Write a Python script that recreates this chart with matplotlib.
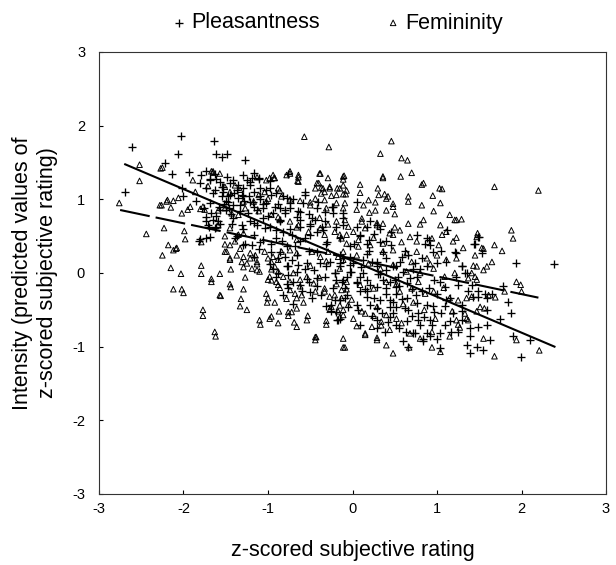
import matplotlib
matplotlib.use("Agg")
import matplotlib.pyplot as plt
import numpy as np

plt.rcParams['font.family'] = ['Liberation Sans', 'DejaVu Sans']
plt.rcParams['axes.unicode_minus'] = False

# Pleasantness ratings (x = z-scored rating, y = predicted intensity)
pleas_pts = [
    (-2.69, 1.10), (-2.61, 1.71), (-2.22, 1.49), (-2.14, 1.35), (-2.06, 1.62), (-2.03, 1.86),
    (-2.01, 1.04), (-2.02, 1.15), (-1.93, 1.37), (-1.80, 1.22), (-1.73, 1.39), (-1.69, 1.26),
    (-1.64, 1.79), (-1.61, 1.61), (-1.55, 1.57), (-1.49, 1.62), (-1.61, 1.28), (-1.63, 1.13),
    (-1.55, 1.17), (-1.53, 1.10), (-1.47, 1.04), (-1.27, 1.53), (-1.82, 0.43), (-1.69, 0.49),
    (-1.80, 0.46), (-1.73, 0.76), (-1.65, 0.72), (-1.59, 0.70), (-1.71, 0.65), (-1.63, 0.61),
    (-1.73, 0.47), (-1.55, 1.05), (-1.50, 0.98), (-1.52, 0.93), (-1.58, 0.90), (-1.50, 0.85),
    (-1.46, 0.88), (-1.85, 0.98), (-1.76, 0.88), (-1.68, 0.82), (-1.62, 0.77), (-1.57, 0.66),
    (-1.70, 0.62),
    (-1.17, 1.36), (-1.19, 1.29), (-1.11, 1.27), (-1.25, 1.26), (-1.45, 1.22), (-1.35, 1.20),
    (-1.29, 1.15), (-1.21, 1.19), (-1.09, 1.15), (-0.98, 1.15), (-0.96, 1.06), (-0.82, 1.04),
    (-0.56, 1.06), (-0.41, 0.97), (-0.24, 0.90), (-0.33, 0.83), (-0.11, 0.81), (-1.40, 1.08),
    (-1.31, 1.06), (-1.23, 1.04), (-1.10, 1.00), (-1.47, 0.97), (-1.33, 0.92), (-1.17, 0.90),
    (-1.06, 0.88), (-0.92, 0.90), (-0.80, 0.85), (-0.80, 0.81), (-0.66, 0.76), (-0.52, 0.80),
    (-0.44, 0.72), (-0.33, 0.70), (-0.19, 0.63), (-0.11, 0.65), (-1.43, 0.67), (-1.31, 0.65),
    (-1.21, 0.70), (-1.13, 0.65), (-1.04, 0.61), (-0.90, 0.58), (-0.82, 0.56), (-0.72, 0.52),
    (-0.56, 0.47), (-1.39, 0.47), (-1.27, 0.40), (-1.19, 0.38), (-1.11, 0.33), (-1.06, 0.45),
    (-0.96, 0.40), (-0.96, 0.29), (-0.88, 0.20), (-0.80, 0.22), (-0.72, 0.18), (-0.64, 0.11),
    (-0.56, 0.06), (-0.46, 0.04), (-0.38, 0.13), (-0.27, 0.15), (-0.15, 0.09), (-0.94, 0.06),
    (-0.88, 0.00), (-0.76, -0.03), (-0.70, -0.12), (-0.62, -0.16), (-0.52, -0.12), (-0.42, -0.07),
    (-0.33, -0.05), (-0.21, 0.00), (-0.13, -0.12), (-0.76, -0.21), (-0.60, -0.25), (-0.48, -0.34),
    (-0.37, -0.30), (-0.25, -0.43), (-0.15, -0.37), (-0.17, -0.64), (-0.25, -0.52), (-0.76, 0.09),
    (-1.36, 1.02), (-1.28, 0.98), (-1.18, 0.96), (-1.02, 0.95), (-0.88, 0.93), (-0.74, 0.88),
    (-0.64, 0.84), (-0.48, 0.74), (-1.00, 0.78), (-0.86, 0.72), (-0.62, 0.62), (-0.42, 0.55),
    (-0.30, 0.42), (-0.52, 0.30), (-0.68, 0.36), (-0.84, 0.44), (-1.24, 0.82), (-1.44, 0.80),
    (-0.58, 0.95), (-0.70, 1.00), (-0.50, 0.64), (-0.36, 0.62),
    (-1.79, 1.33), (-1.69, 1.28), (-1.63, 1.35), (-1.57, 1.24), (-1.49, 1.30), (-1.41, 1.26),
    (-1.29, 1.33), (-1.21, 1.23), (-1.11, 1.29), (-0.98, 1.25), (-0.76, 1.35),
    (-1.73, 1.15), (-1.65, 1.08), (-1.53, 1.17), (-1.45, 1.06), (-1.37, 1.12), (-1.29, 1.05),
    (-1.17, 1.10), (-1.09, 1.05), (-1.02, 1.13), (-0.90, 1.08), (-0.78, 1.02), (-0.56, 1.10),
    (-1.69, 0.95), (-1.57, 0.85), (-1.41, 0.92), (-1.33, 0.84), (-1.21, 0.97), (-1.13, 0.86),
    (-1.06, 0.93), (-0.94, 0.82), (-0.86, 0.88), (-0.74, 0.95), (-0.62, 0.83), (-0.42, 0.88),
    (-0.23, 0.82),
    (-1.73, 0.70), (-1.61, 0.62), (-1.41, 0.74), (-1.29, 0.60), (-1.17, 0.68), (-1.06, 0.75),
    (-0.98, 0.63), (-0.86, 0.70), (-0.74, 0.60), (-0.62, 0.72), (-0.50, 0.66), (-0.35, 0.59),
    (-0.11, 0.74), (0.05, 0.62), (0.21, 0.70), (0.33, 0.60),
    (-1.37, 0.50), (-1.29, 0.38), (-1.17, 0.52), (-1.09, 0.42), (-0.90, 0.48), (-0.78, 0.37),
    (-0.62, 0.44), (-0.50, 0.52), (-0.31, 0.40), (-0.15, 0.47), (-0.03, 0.37), (0.09, 0.50),
    (0.17, 0.40), (0.25, 0.53), (0.40, 0.44),
    (-1.17, 0.22), (-0.98, 0.12), (-0.86, 0.28), (-0.78, 0.10), (-0.66, 0.24), (-0.54, 0.14),
    (-0.42, 0.28), (-0.31, 0.10), (-0.15, 0.24), (0.01, 0.13), (0.17, 0.26), (0.29, 0.15),
    (0.40, 0.20), (0.52, 0.10),
    (-0.90, -0.05), (-0.78, -0.15), (-0.66, 0.02), (-0.54, -0.08), (-0.42, -0.18), (-0.19, -0.10),
    (-0.03, 0.01), (0.09, -0.06), (0.21, -0.16), (0.33, -0.02), (0.44, -0.12), (0.52, -0.19),
    (-0.82, -0.30), (-0.70, -0.42), (-0.50, -0.26), (-0.31, -0.45), (-0.07, -0.30), (0.05, -0.44),
    (0.17, -0.25), (0.29, -0.48), (0.40, -0.28), (0.48, -0.40),
    (-0.15, -0.62), (0.09, -0.70), (0.29, -0.75), (0.44, -0.60),
    (0.05, 0.97), (0.29, 0.65), (0.17, 0.63), (0.09, 0.52), (0.19, 0.45), (0.33, 0.42),
    (0.36, 0.29), (0.46, 0.38), (0.58, 0.22), (0.66, 0.24), (0.88, 0.47), (0.86, 0.40),
    (0.92, 0.38), (0.76, 0.52), (0.74, 0.13), (0.88, 0.09), (1.00, 0.13), (0.76, -0.05),
    (0.64, -0.14), (0.54, -0.05), (0.40, 0.04), (0.29, 0.09), (0.13, 0.18), (-0.03, 0.22),
    (-0.15, 0.13), (-0.21, 0.00), (-0.11, -0.09), (0.05, -0.14), (0.17, -0.09), (0.29, -0.19),
    (0.40, -0.21), (0.52, -0.28), (0.64, -0.34), (0.76, -0.41), (0.88, -0.43), (1.00, -0.28),
    (1.09, -0.19), (1.11, -0.37), (0.52, -0.46), (0.44, -0.37), (0.33, -0.37), (0.21, -0.43),
    (0.66, -0.50), (0.78, -0.55), (-0.23, -0.21), (-0.21, -0.37), (-0.19, -0.53), (-0.23, 0.89),
    (0.78, -0.64), (0.92, -0.64), (0.97, -0.53), (0.88, -0.82), (0.72, -0.82), (0.63, -0.80),
    (0.52, -0.71), (0.42, -0.66), (0.29, -0.64), (0.35, -0.55), (0.23, -0.59), (0.17, -0.32),
    (0.07, -0.50), (-0.05, -0.46), (-0.09, -0.34), (-0.18, -0.64), (1.09, -0.71), (1.17, -0.80),
    (1.04, -0.82), (0.92, -0.86), (0.84, -0.89), (0.66, -1.01), (1.04, -1.02), (1.12, 0.58),
    (1.22, 0.27), (1.29, 0.09), (1.35, 0.00), (1.23, -0.05), (1.49, -0.25), (1.57, -0.28),
    (1.42, -0.32), (1.29, -0.43), (1.19, -0.55), (1.29, -0.64), (-0.11, 0.20), (-0.03, 0.11),
    (-0.07, -0.05), (0.05, -0.12), (0.13, 0.00), (0.23, 0.15), (0.09, -0.25), (0.25, -0.34),
    (-0.09, -0.21), (0.90, 0.45), (1.11, 0.15), (1.21, 0.29), (0.56, 0.15), (0.68, -0.07),
    (0.80, 0.06), (1.04, -0.12), (1.15, -0.34), (0.44, -0.46), (0.80, -0.71), (0.94, -0.71),
    (1.00, -0.89), (0.84, -0.93), (0.74, -0.82), (0.48, 0.10), (0.60, 0.02), (0.70, -0.22),
    (0.36, -0.10), (0.20, 0.30), (0.02, 0.40), (0.10, 0.08), (0.55, -0.18), (0.82, -0.25),
    (0.96, -0.10), (0.62, 0.30), (0.45, 0.55), (0.30, -0.02), (0.15, -0.22), (-0.02, 0.02),
    (0.50, -0.10), (0.58, -0.35), (0.62, -0.48), (0.70, -0.58), (0.75, -0.30), (0.85, -0.60),
    (0.90, -0.20), (0.95, -0.45), (1.05, -0.55), (1.10, -0.45), (1.15, -0.65), (0.55, -0.75),
    (0.65, -0.65), (0.72, 0.05), (0.82, 0.20), (0.95, 0.28), (1.05, 0.30), (0.48, -0.55),
    (0.38, -0.80), (0.60, -0.92),
    (1.45, 0.40), (1.49, 0.49), (1.53, 0.27), (1.94, 0.13), (2.39, 0.12), (1.29, 0.09),
    (1.33, 0.00), (1.25, -0.16), (1.41, -0.16), (1.49, -0.32), (1.37, -0.25), (1.59, -0.34),
    (1.65, -0.28), (1.78, -0.17), (1.84, -0.39), (1.88, -0.55), (1.75, -0.62), (1.59, -0.71),
    (1.49, -0.73), (1.39, -0.75), (1.25, -0.80), (1.39, -0.86), (1.63, -0.91), (1.90, -0.86),
    (2.10, -0.91), (1.35, -0.98), (1.47, -1.01), (1.55, -1.05), (1.39, -1.09), (1.99, -1.14),
    (1.29, -0.52), (1.59, -0.50), (1.50, 0.49), (1.44, 0.39),
]

# Femininity ratings
femin_pts = [
    (-2.76, 0.95), (-2.52, 1.25), (-2.52, 1.47), (-2.27, 1.42), (-2.44, 0.53), (-2.23, 0.61),
    (-2.28, 0.92), (-2.15, 0.89), (-2.20, 0.97), (-2.12, 0.98), (-2.06, 1.02), (-2.18, 0.38),
    (-2.12, 0.31), (-2.08, 0.34), (-2.25, 0.24), (-2.15, 0.07), (-2.03, -0.01), (-2.12, -0.22),
    (-2.02, -0.22), (-2.00, -0.27), (-1.79, -0.01), (-1.67, -0.12), (-1.57, -0.01), (-1.56, -0.31),
    (-1.77, -0.50), (-1.62, -0.86), (-1.98, 0.46), (-1.99, 0.57), (-1.92, 0.90), (-2.02, 0.81),
    (-1.95, 0.86), (-1.86, 1.10), (-1.89, 1.26), (-1.80, 0.87), (-1.75, 0.86), (-1.71, 1.18),
    (-1.65, 1.38), (-1.51, 0.29), (-1.51, 0.39), (-2.26, 0.92), (-2.19, 0.99), (-2.25, 1.43),
    (-2.09, 0.33), (-1.25, -0.50), (-1.10, -0.64), (-0.96, -0.59), (-0.87, -0.52), (-0.76, -0.53),
    (-0.72, -0.53), (-0.69, -0.67), (-0.53, -0.58), (-0.43, -0.87), (-0.31, -0.65), (-0.27, -0.50),
    (-0.11, -0.89), (-0.57, 1.85), (-0.28, 1.71), (-0.74, 1.35), (-0.64, 1.33), (-0.65, 1.25),
    (-0.98, 1.29), (-0.93, 1.29), (-0.38, 1.35), (-0.29, 1.29), (-0.35, 1.15), (-0.27, 1.15),
    (-0.18, 1.15), (-0.11, 1.07), (-0.42, 1.22), (-1.57, 1.35), (-1.67, 1.38), (-1.02, 0.97),
    (-0.74, 1.38), (-0.78, 1.33), (-0.64, 1.24), (-0.92, 1.29), (-1.02, 1.26), (-0.40, 1.22),
    (-0.37, 1.16), (-0.33, 1.10), (-0.15, 1.15), (-0.11, 1.31), (-0.11, 1.19), (-1.51, 1.17),
    (-1.45, 1.10), (-1.39, 1.19), (-1.33, 1.13), (-1.29, 0.97), (-1.17, 0.97), (-1.11, 1.06),
    (-1.04, 1.10), (-1.00, 1.01), (-0.88, 1.15), (-0.84, 1.04), (-0.74, 1.00), (-0.62, 0.98),
    (-0.50, 0.96), (-0.44, 1.01), (-0.33, 0.99), (-0.25, 1.05), (-0.19, 0.95), (-1.51, 0.88),
    (-1.43, 0.81), (-1.35, 0.79), (-1.27, 0.88), (-1.11, 0.84), (-0.96, 0.79), (-0.88, 0.76),
    (-0.74, 0.70), (-0.64, 0.65), (-0.52, 0.56), (-0.38, 0.61), (-0.33, 0.52), (-0.21, 0.56),
    (-0.13, 0.47), (-1.45, 0.61), (-1.35, 0.52), (-1.29, 0.54), (-1.39, 0.43), (-1.33, 0.33),
    (-1.49, 0.29), (-1.45, 0.20), (-1.37, 0.24), (-1.29, 0.22), (-1.21, 0.27), (-1.15, 0.24),
    (-1.13, 0.15), (-1.04, 0.29), (-1.00, 0.20), (-0.94, 0.22), (-0.84, 0.29), (-0.74, 0.31),
    (-0.66, 0.27), (-0.48, 0.29), (-0.38, 0.22), (-0.29, 0.29), (-0.17, 0.22), (-0.11, 0.29),
    (-0.96, 0.15), (-0.92, 0.09), (-0.88, 0.02), (-0.82, -0.05), (-0.70, 0.00), (-0.62, -0.09),
    (-0.54, -0.05), (-0.46, -0.14), (-0.33, -0.21), (-0.21, -0.30), (-0.13, -0.23), (-0.88, -0.16),
    (-0.90, -0.12), (-0.74, -0.23), (-0.68, -0.28), (-0.66, -0.34), (-0.60, -0.30), (-0.44, -0.25),
    (-0.33, -0.25), (-0.25, -0.46), (-0.17, -0.52), (-0.11, -0.57), (-1.00, -0.09), (-0.96, -0.10),
    (-1.19, 0.06), (-1.13, 0.04), (-1.10, 0.02), (-1.31, 0.15), (-1.25, 0.13), (-1.44, 0.05),
    (-1.27, -0.06), (-1.32, -0.35), (-1.44, -0.19), (-1.00, -0.34), (-1.01, -0.40), (-0.44, -0.87),
    (-0.11, -1.01),
    (-1.65, 1.36), (-1.13, 1.30), (-0.94, 1.33), (-0.64, 1.30), (-0.39, 1.35), (-0.11, 1.27),
    (0.36, 1.31), (-0.86, 1.12), (-0.44, 1.15), (-0.37, 1.08), (-0.27, 1.17), (-0.19, 1.06),
    (-0.07, 1.12), (0.09, 1.09), (0.30, 1.15), (0.38, 1.07), (-1.77, 0.90), (-1.59, 0.85),
    (-0.50, 0.92), (-0.31, 0.88), (-0.09, 0.95), (0.05, 0.86), (0.13, 0.92), (0.27, 0.85),
    (0.48, 0.94), (-1.59, 0.65), (-0.86, 0.72), (-0.66, 0.62), (-0.39, 0.75), (-0.29, 0.66),
    (-0.19, 0.70), (-0.05, 0.63), (0.11, 0.74), (0.29, 0.68), (-1.79, 0.42), (-1.51, 0.50),
    (-1.45, 0.38), (-0.66, 0.45), (-0.07, 0.52), (0.07, 0.36), (0.25, 0.48), (0.36, 0.40),
    (0.48, 0.52), (-1.79, 0.10), (-1.45, 0.18), (-1.29, 0.08), (-1.21, 0.20), (-1.13, 0.12),
    (-0.96, 0.05), (-0.88, 0.18), (-0.50, 0.10), (-0.31, 0.16), (-0.15, 0.06), (-1.67, -0.08),
    (-1.45, -0.15), (-1.29, -0.22), (-0.98, -0.05), (-0.86, -0.20), (-0.74, -0.12), (-0.62, -0.18),
    (-0.39, -0.06), (-0.19, -0.15), (-0.07, -0.22), (-1.57, -0.30), (-1.33, -0.45), (-1.02, -0.28),
    (-0.92, -0.40), (-0.78, -0.35), (-0.66, -0.48), (-0.58, -0.40), (-0.27, -0.32), (-0.15, -0.44),
    (-0.01, -0.36), (-1.77, -0.58), (-1.09, -0.70), (-0.98, -0.62), (-0.88, -0.68), (-0.76, -0.58),
    (-0.66, -0.73), (-0.54, -0.64), (-0.31, -0.70), (-0.15, -0.60), (0.05, -0.72), (0.25, -0.58),
    (0.34, -0.66), (-1.63, -0.80), (-0.44, -0.91), (0.15, -0.84), (0.29, -0.88),
    (0.46, 1.79), (0.33, 1.62), (0.58, 1.56), (0.65, 1.53), (0.70, 1.36), (0.57, 1.31),
    (0.36, 1.29), (0.09, 1.20), (-0.10, 1.32), (0.82, 1.20), (0.84, 1.22), (1.03, 1.15),
    (1.06, 1.14), (0.95, 1.05), (-0.08, 1.07), (0.19, 0.99), (0.27, 0.96), (0.31, 1.06),
    (0.40, 1.01), (0.42, 1.04), (0.48, 0.90), (0.66, 1.04), (0.66, 0.97), (0.82, 0.92),
    (0.96, 0.84), (1.04, 0.95), (1.15, 0.79), (1.21, 0.72), (0.50, 0.80), (0.66, 0.67),
    (0.84, 0.72), (0.80, 0.66), (1.04, 0.65), (1.11, 0.56), (-0.11, 0.88), (-0.09, 0.72),
    (0.11, 0.70), (0.01, 0.56), (0.15, 0.61), (0.29, 0.65), (0.36, 0.67), (0.44, 0.54),
    (0.56, 0.58), (0.68, 0.49), (0.76, 0.43), (0.94, 0.47), (1.06, 0.52), (1.19, 0.43),
    (-0.15, 0.52), (-0.07, 0.40), (0.07, 0.45), (0.21, 0.38), (0.36, 0.29), (0.48, 0.31),
    (0.64, 0.27), (0.76, 0.29), (0.88, 0.20), (1.00, 0.24), (1.11, 0.18), (1.23, 0.20),
    (-0.11, 0.18), (0.05, 0.24), (0.19, 0.13), (0.33, 0.06), (0.48, 0.11), (0.64, 0.02),
    (0.80, 0.00), (0.96, 0.06), (1.09, -0.05), (1.21, 0.00), (-0.07, -0.12), (0.09, -0.16),
    (0.25, -0.21), (0.40, -0.12), (0.56, -0.25), (0.70, -0.21), (0.86, -0.28), (0.96, -0.25),
    (1.15, -0.34), (-0.13, -0.34), (-0.05, -0.43), (0.11, -0.52), (0.15, -0.55), (0.29, -0.46),
    (0.40, -0.57), (0.52, -0.62), (0.58, -0.68), (0.23, -0.73), (0.34, -0.71), (0.44, -0.77),
    (0.68, -0.82), (0.80, -0.89), (0.94, -0.80), (1.15, -0.86), (0.15, -0.82), (0.29, -0.91),
    (0.40, -0.98), (0.48, -1.09), (0.67, -1.01), (0.94, -1.01), (1.04, -1.07), (-0.09, -1.01),
    (0.01, -0.62), (-0.11, -0.50),
    (0.52, -0.15), (0.60, -0.42), (0.72, -0.40), (0.85, -0.50), (0.98, -0.62), (1.08, -0.20),
    (1.18, -0.52), (0.78, -0.12), (0.92, 0.12), (1.02, 0.38), (0.70, 0.15), (0.58, 0.42),
    (0.50, 0.62), (0.40, 0.85), (0.20, 0.82),
    (1.68, 1.17), (2.20, 1.12), (1.23, 0.72), (1.29, 0.73), (1.48, 0.54), (1.47, 0.49),
    (1.88, 0.58), (1.90, 0.47), (1.23, 0.48), (1.31, 0.34), (1.55, 0.33), (1.53, 0.34),
    (1.68, 0.38), (1.77, 0.30), (1.45, 0.24), (1.65, 0.15), (1.59, 0.09), (1.55, 0.04),
    (1.43, 0.10), (1.47, 0.09), (1.41, 0.00), (1.45, -0.05), (1.47, -0.09), (1.37, -0.07),
    (1.94, -0.12), (1.99, -0.16), (2.00, -0.25), (1.80, -0.25), (1.61, -0.30), (1.69, -0.33),
    (1.41, -0.32), (1.35, -0.34), (1.25, -0.37), (1.51, -0.46), (1.56, -0.48), (1.47, -0.52),
    (1.33, -0.55), (1.35, -0.62), (1.37, -0.64), (1.23, -0.64), (1.25, -0.70), (1.27, -0.74),
    (1.55, -0.89), (1.94, -0.91), (2.21, -1.05), (1.68, -1.13),
]

# fitted regression lines (end points)
pleas_fit_x = [-2.69, 2.39]
pleas_fit_y = [1.475, -1.00]
femin_fit_x = [-2.75, 2.20]
femin_fit_y = [0.855, -0.335]

px, py = np.array(pleas_pts).T
fx, fy = np.array(femin_pts).T

fig = plt.figure(figsize=(6.16, 5.65), dpi=100)
ax = fig.add_axes([0.1607, 0.1257, 0.8231, 0.7823])

h1 = ax.scatter(px, py, marker='+', s=28, c='black', linewidths=0.95, zorder=2,
                label='Pleasantness')
h2 = ax.scatter(fx, fy, marker='^', s=16, facecolors='none', edgecolors='black',
                linewidths=0.7, zorder=2, label='Femininity')

ax.plot(pleas_fit_x, pleas_fit_y, color='black', lw=1.5, zorder=3)
ax.plot(femin_fit_x, femin_fit_y, color='black', lw=1.5, dashes=(14.5, 2.9), zorder=3)

ax.set_xlim(-3, 3)
ax.set_ylim(-3, 3)
ax.set_xticks(range(-3, 4))
ax.set_yticks(range(-3, 4))
ax.tick_params(direction='in', length=3, width=0.8, labelsize=10.5, top=False, right=False)
ax.tick_params(axis='x', pad=6)
ax.tick_params(axis='y', pad=10)
for sp in ax.spines.values():
    sp.set_linewidth(0.8)
    sp.set_color('#333333')

ax.set_xlabel('z-scored subjective rating', fontsize=15.5, labelpad=17)
ax.set_ylabel('Intensity (predicted values of\nz-scored subjective rating)',
              fontsize=15.5, labelpad=10, linespacing=1.25)

fig.legend(handles=[h1, h2], loc='center left', bbox_to_anchor=(173 / 616, 1 - 23 / 565),
           ncol=2, frameon=False, fontsize=15.5, borderpad=0, borderaxespad=0,
           handlelength=0.6, handletextpad=0.25, columnspacing=3.1, scatterpoints=1)

fig.savefig('out.png', dpi=100)
